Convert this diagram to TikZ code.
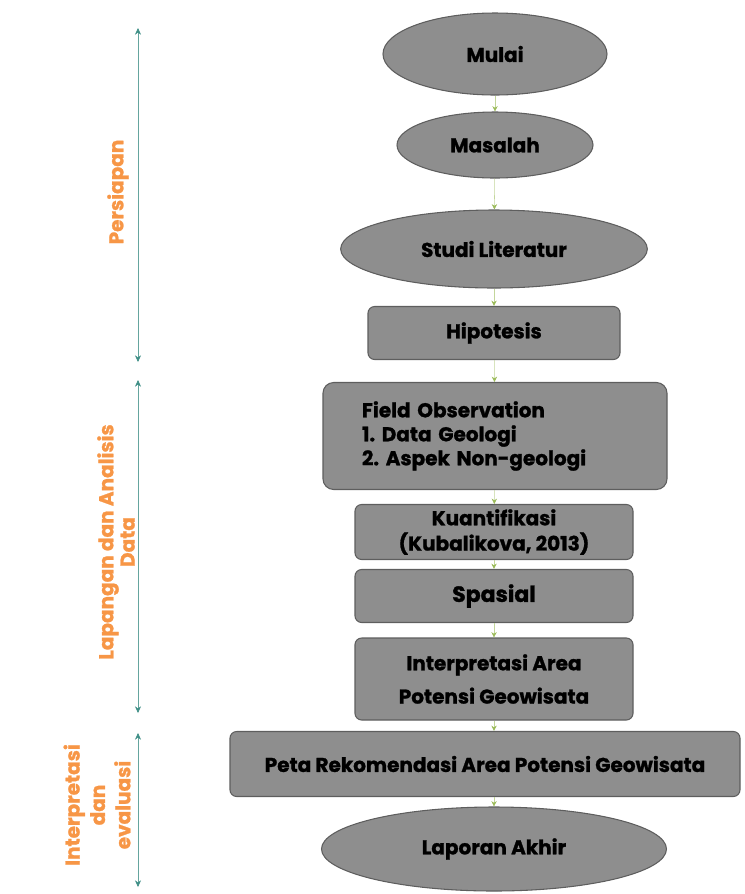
\documentclass[tikz,border=0pt]{standalone}
\usepackage{fontspec}
\setmainfont{Poppins}[BoldFeatures={FakeBold=1.2}]
\usepackage{tikz}
\usetikzlibrary{arrows.meta, shapes}

\definecolor{boxgray}{HTML}{8E8E8E}
\definecolor{boxline}{HTML}{5E5E5E}
\definecolor{flowgreen}{HTML}{9BBB59}
\definecolor{phaseteal}{HTML}{3F8F86}
\definecolor{phaseorange}{HTML}{F79646}

\frenchspacing
\begin{document}
\begin{tikzpicture}[x=0.75pt, y=-0.75pt, font=\fontsize{15}{18}\selectfont\bfseries]
\useasboundingbox (0,0) rectangle (745,894);

% flow boxes
\begin{scope}[every node/.style={draw=boxline, fill=boxgray, thick, inner sep=2pt, align=center}]
  \node[ellipse, minimum width=168pt, minimum height=61.5pt] (mulai) at (495,54) {Mulai};
    \node[ellipse, minimum width=147pt, minimum height=49.5pt] (masalah) at (495,145) {Masalah};
    \node[ellipse, minimum width=230pt, minimum height=58.5pt] (studi) at (494,249) {Studi Literatur};
    \node[rounded corners=5pt, minimum width=189pt, minimum height=39.75pt] (hipotesis) at (494,333) {Hipotesis};
    \node[rounded corners=8pt, minimum width=258pt, minimum height=80.25pt, text width=199.5pt, inner xsep=29.25pt, align=left] (field) at (495,436) {Field Observation\\1. Data Geologi\\2. Aspek Non-geologi};
    \node[rounded corners=5pt, minimum width=208.5pt, minimum height=41.25pt, font=\fontsize{15}{19}\selectfont\bfseries] (kuant) at (494,532) {Kuantifikasi\\(Kubalikova, 2013)};
    \node[rounded corners=5pt, minimum width=208.5pt, minimum height=39.75pt, font=\fontsize{16.5}{18}\selectfont\bfseries] (spasial) at (494,596) {Spasial};
    \node[rounded corners=5pt, minimum width=208.5pt, minimum height=61.5pt, font=\fontsize{15}{25}\selectfont\bfseries] (interp) at (494,679) {Interpretasi Area\\Potensi Geowisata};
    \node[rounded corners=5pt, minimum width=382.5pt, minimum height=48.75pt] (peta) at (485,764) {Peta Rekomendasi Area Potensi Geowisata};
    \node[ellipse, minimum width=258.75pt, minimum height=63pt] (laporan) at (494,849) {Laporan Akhir};
\end{scope}

% phase labels
\begin{scope}[every node/.style={rotate=90, text=phaseorange, align=center}]
  \node (persiapan) at (118,192) {Persiapan};
    \node[font=\fontsize{15}{16}\selectfont\bfseries] (lapangan) at (116,542) {Lapangan dan Analisis\\Data};
    \node[font=\fontsize{15}{19}\selectfont\bfseries] (evaluasi) at (97,805) {Interpretasi\\dan\\evaluasi};
\end{scope}

\coordinate (pA) at (138,28);
\coordinate (pB) at (138,362);
\coordinate (lA) at (138,380);
\coordinate (lB) at (138,713);
\coordinate (eA) at (138,733);
\coordinate (eB) at (138,887);

\begin{scope}[>={Stealth[phaseteal, length=5pt, width=4.5pt]},
              every edge/.style={draw=phaseteal!80, thin}]
    \path[<->] (pA) edge (pB);
    \path[<->] (lA) edge (lB);
    \path[<->] (eA) edge (eB);
\end{scope}

\begin{scope}[>={Stealth[flowgreen, length=4pt, width=4pt]},
              every edge/.style={draw=flowgreen!60, thin}]
    \path[->] (mulai) edge (masalah);
    \path[->] (masalah) edge (studi);
    \path[->] (studi) edge (hipotesis);
    \path[->] (hipotesis) edge (field);
    \path[->] (field) edge (kuant);
    \path[->] (kuant) edge (spasial);
    \path[->] (spasial) edge (interp);
    \path[->] (interp) edge (interp |- peta.north);
    \path[->] (peta.south -| laporan) edge (laporan);
\end{scope}

\end{tikzpicture}
\end{document}
